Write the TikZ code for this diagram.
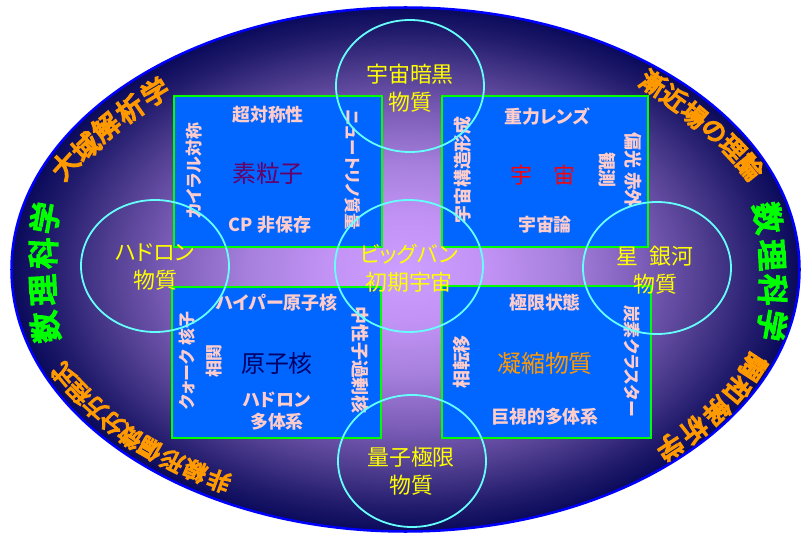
\documentclass[tikz,border=0pt]{standalone}
\usepackage{fontspec}
\setmainfont[RawFeature=+palt]{Noto Sans CJK JP}
\newfontfamily\heavy[FakeBold=6]{Noto Sans CJK JP}
\usetikzlibrary{shapes.geometric}
\definecolor{outerblue}{HTML}{0000FF}
\definecolor{boxblue}{HTML}{0066FF}
\definecolor{boxgreen}{HTML}{00FF00}
\definecolor{ringcyan}{HTML}{66FFFF}
\definecolor{lblpink}{HTML}{FFCCCC}
\definecolor{soryu}{HTML}{660066}
\definecolor{genshi}{HTML}{000066}
\definecolor{gyoshuku}{HTML}{FF9900}
\definecolor{uchu}{HTML}{FF0000}
\definecolor{arcorange}{HTML}{FF9900}
\definecolor{arcgreen}{HTML}{00FF00}
\definecolor{ringyellow}{HTML}{FFFF00}
\definecolor{g0}{HTML}{CC9EFF}
\definecolor{g1}{HTML}{C293F5}
\definecolor{g2}{HTML}{A680DC}
\definecolor{g3}{HTML}{7C5DB8}
\definecolor{g4}{HTML}{503E90}
\definecolor{g5}{HTML}{241D6E}
\definecolor{g6}{HTML}{0A0A5A}
\pgfdeclareradialshading{bgshade}{\pgfpoint{0bp}{0bp}}{color(0bp)=(g0); color(5bp)=(g1); color(10bp)=(g2); color(15bp)=(g3); color(19bp)=(g4); color(22.5bp)=(g5); color(25bp)=(g6); color(50bp)=(g6)}
\begin{document}
\begin{tikzpicture}[x=1bp,y=-1bp,
  box/.style={fill=boxblue, draw=boxgreen, line width=2bp, inner sep=0pt},
  ring/.style={ellipse, draw=ringcyan, line width=1.8bp, inner sep=0pt, minimum width=148bp, minimum height=132bp},
  pinklbl/.style={text=lblpink, font=\fontsize{18}{22}\selectfont\bfseries, inner sep=0pt, align=center},
  bigl/.style={font=\fontsize{24}{28}\selectfont, inner sep=0pt},
  yel/.style={text=ringyellow, font=\fontsize{22}{28}\selectfont, align=center, inner sep=0pt},
  arcO/.style={text=arcorange, inner sep=0pt},
  arcG/.style={text=arcgreen, font=\heavy\fontsize{31}{31}\selectfont, inner sep=0pt}]
\fill[white] (0,0) rectangle (807,534);
\useasboundingbox (0,0) rectangle (807,534);
% outer ellipse
\shadedraw[shading=bgshade, draw=outerblue, line width=2.5bp] (405.5,269.5) ellipse [x radius=394bp, y radius=262bp];
% boxes
\node[box, minimum width=208bp, minimum height=151bp] (b1) at (278,171.5) {};
\node[box, minimum width=206bp, minimum height=151bp] (b2) at (545,171.5) {};
\node[box, minimum width=209bp, minimum height=151bp] (b3) at (276.5,362.5) {};
\node[box, minimum width=209bp, minimum height=152bp] (b4) at (546.5,362) {};
% box 1
\node[pinklbl] (s1) at (268,115) {超対称性};
\node[bigl, text=soryu] (s0) at (268,173) {素粒子};
\node[pinklbl] (s2) at (270,225) {CP 非保存};
\node[pinklbl, font=\fontsize{17}{20}\selectfont\bfseries, rotate=90] (s3) at (194,171) {カイラル対称};
\node[pinklbl, font=\fontsize{16.5}{20}\selectfont\bfseries, rotate=-90] (s4) at (353,170) {ニュートリノ質量};
% box 2
\node[pinklbl] (u1) at (547,117) {重力レンズ};
\node[bigl, text=uchu, font=\fontsize{22}{26}\selectfont] (u0) at (543,175) {宇\hspace{1em}宙};
\node[pinklbl] (u2) at (545,225) {宇宙論};
\node[pinklbl, rotate=90] (u3) at (463,170) {宇宙構造形成};
\node[pinklbl, rotate=-90, font=\fontsize{18}{26}\selectfont\bfseries] (u4) at (620,170) {偏光 赤外\\観測};
% box 3
\node[pinklbl] (n1) at (277,303) {ハイパー原子核};
\node[bigl, text=genshi] (n0) at (277,363) {原子核};
\node[pinklbl] (n2) at (277,411) {ハドロン\\多体系};
\node[pinklbl, rotate=90, font=\fontsize{17}{27}\selectfont\bfseries] (n3) at (201,361) {クォーク 核子\\相関};
\node[pinklbl, rotate=-90] (n4) at (360,360) {中性子過剰核};
% box 4
\node[pinklbl] (m1) at (545,303) {極限状態};
\node[bigl, text=gyoshuku] (m0) at (545,363) {凝縮物質};
\node[pinklbl] (m2) at (545,417) {巨視的多体系};
\node[pinklbl, rotate=90] (m3) at (462,362) {相転移};
\node[pinklbl, rotate=-90, font=\fontsize{17}{20}\selectfont\bfseries] (m4) at (632,361) {炭素クラスター};
% circles
\node[ring] (c1) at (410,86) {};
\node[ring] (c2) at (155,266) {};
\node[ring] (c3) at (409,266) {};
\node[ring] (c4) at (657,268) {};
\node[ring] (c5) at (412,461) {};
\node[yel] (t1) at (410,88) {宇宙暗黒\\物質};
\node[yel] (t2) at (155,267) {ハドロン\\物質};
\node[yel] (t3) at (409,268) {ビッグバン\\初期宇宙};
\node[yel] (t4) at (655,270) {星\hspace{0.5em}銀河\\物質};
\node[yel] (t5) at (411,471) {量子極限\\物質};
% outer arc texts
\foreach \px/\py/\r/\ch [count=\i] in {65/165/48/大, 86/147/43/域, 106/127/39/解, 130/109/35/析, 155/92/31/学}
  \node[arcO, font=\heavy\fontsize{27}{27}\selectfont, rotate=\r] (tl\i) at (\px,\py) {\ch};
\foreach \px/\py/\r/\ch [count=\i] in {653/83/-32/漸, 674/98/-36/近, 694/115/-40/場, 714/131/-43/の, 733/148/-47/理, 750/167/-51/論}
  \node[arcO, font=\heavy\fontsize{25}{25}\selectfont, rotate=\r] (tr\i) at (\px,\py) {\ch};
\foreach \px/\py/\r/\ch [count=\i] in {45/327/100/数, 43/290/93/理, 43/253/87/科, 45/218/80/学}
  \node[arcG, rotate=\r] (lg\i) at (\px,\py) {\ch};
\foreach \px/\py/\r/\ch [count=\i] in {768/218/-80/数, 772/255/-87/理, 773/290/-93/科, 772/325/-100/学}
  \node[arcG, rotate=\r] (rg\i) at (\px,\py) {\ch};
\foreach \px/\py/\r/\ch [count=\i] in {219/481/160/非, 195/471/157/線, 172/461/153/形, 150/449/150/偏, 130/437/146/微, 112/423/142/分, 95/408/138/方, 79/392/134/程, 64/375/130/式}
  \node[arcO, font=\heavy\fontsize{23}{23}\selectfont, rotate=\r] (bl\i) at (\px,\py) {\ch};
\foreach \px/\py/\r/\ch [count=\i] in {753/367/-123/調, 737/390/-130/和, 717/411/-136/解, 694/430/-142/析, 670/447/-147/学}
  \node[arcO, font=\heavy\fontsize{26}{26}\selectfont, rotate=\r] (br\i) at (\px,\py) {\ch};
\end{tikzpicture}
\end{document}
